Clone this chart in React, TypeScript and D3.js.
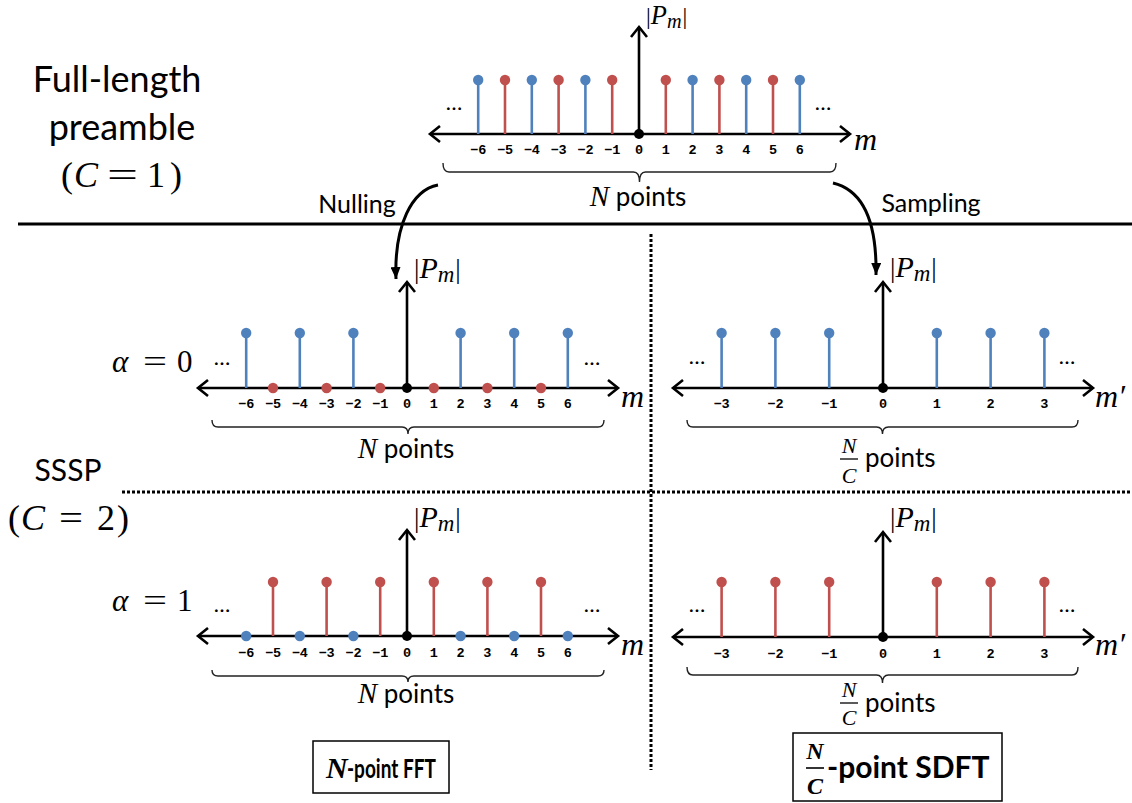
import React from "react";
import * as d3 from "d3";

const BLUE = "#4F81BD";
const RED = "#C0504D";

// ---- data ----
const mIndex = [-6, -5, -4, -3, -2, -1, 0, 1, 2, 3, 4, 5, 6];
const mTickLabels = ["−6", "−5", "−4", "−3", "−2", "−1", "0", "1", "2", "3", "4", "5", "6"];
const fullMag = [1, 1, 1, 1, 1, 1, 0, 1, 1, 1, 1, 1, 1];
const alpha0Mag = [1, 0, 1, 0, 1, 0, 0, 0, 1, 0, 1, 0, 1];
const alpha1Mag = [0, 1, 0, 1, 0, 1, 0, 1, 0, 1, 0, 1, 0];
const mPrimeIndex = [-3, -2, -1, 0, 1, 2, 3];
const mPrimeTickLabels = ["−3", "−2", "−1", "0", "1", "2", "3"];
const sampledMag = [1, 1, 1, 0, 1, 1, 1];

const SANS = "Lato, 'Open Sans', sans-serif";
const SERIF = "'Liberation Serif', 'DejaVu Serif', serif";
const MONO = "'Liberation Mono', 'DejaVu Sans Mono', monospace";

const parityColor = (m: number) => (Math.abs(m) % 2 === 0 ? BLUE : RED);

type PanelProps = {
  idx: number[];
  mags: number[];
  labels: string[];
  colorOf: (m: number) => string;
  cx: number;
  unit: number;
  axisY: number;
  stemTop: number;
  yTop: number;
  xL: number;
  xR: number;
  tickY: number;
  brace: { x1: number; x2: number; y0: number; y1: number; tip: number };
  dotsY: number;
  dotsXL: number;
  dotsXR: number;
  pLabel: { x: number; y: number; s?: number };
  axisLabel: { x: number; y: number; prime: boolean };
};

function PmLabel({ x, y, s = 1 }: { x: number; y: number; s?: number }) {
  return (
    <text x={x} y={y} fontFamily={SERIF} fontSize={27 * s} fill="#000">
      <tspan>|</tspan>
      <tspan fontStyle="italic" fontSize={30 * s}>P</tspan>
      <tspan fontStyle="italic" fontSize={23 * s} dy={4}>m</tspan>
      <tspan dy={-4} dx={1}>|</tspan>
    </text>
  );
}

function Brace({ x1, x2, y0, y1, tip }: { x1: number; x2: number; y0: number; y1: number; tip: number }) {
  const c = (x1 + x2) / 2;
  const r = 6;
  const d = `M${x1},${y0} Q${x1},${y1} ${x1 + r},${y1} L${c - r},${y1} Q${c},${y1} ${c},${tip} Q${c},${y1} ${c + r},${y1} L${x2 - r},${y1} Q${x2},${y1} ${x2},${y0}`;
  return <path d={d} fill="none" stroke="#222" strokeWidth={1.4} />;
}

function StemPanel(p: PanelProps) {
  const x = d3.scaleLinear().domain([0, 1]).range([p.cx, p.cx + p.unit]);
  const y = d3.scaleLinear().domain([0, 1]).range([p.axisY, p.stemTop]);
  const ah = 10;
  const aw = 8;
  return (
    <g>
      <line x1={p.xL} x2={p.xR} y1={p.axisY} y2={p.axisY} stroke="#000" strokeWidth={2.6} />
      <path d={`M${p.xL + ah},${p.axisY - aw} L${p.xL},${p.axisY} L${p.xL + ah},${p.axisY + aw}`} fill="none" stroke="#000" strokeWidth={2.6} />
      <path d={`M${p.xR - ah},${p.axisY - aw} L${p.xR},${p.axisY} L${p.xR - ah},${p.axisY + aw}`} fill="none" stroke="#000" strokeWidth={2.6} />
      {p.idx.map((m, i) => {
        if (m === 0) return null;
        const v = p.mags[i];
        const col = p.colorOf(m);
        return (
          <g key={m}>
            {v > 0 && <line x1={x(m)} x2={x(m)} y1={y(0)} y2={y(v)} stroke={col} strokeWidth={2.6} />}
            <circle cx={x(m)} cy={y(v)} r={5.2} fill={col} />
          </g>
        );
      })}
      <line x1={x(0)} x2={x(0)} y1={p.axisY} y2={p.yTop} stroke="#000" strokeWidth={2.6} />
      <path d={`M${x(0) - aw},${p.yTop + ah} L${x(0)},${p.yTop} L${x(0) + aw},${p.yTop + ah}`} fill="none" stroke="#000" strokeWidth={2.6} />
      <circle cx={x(0)} cy={p.axisY} r={5} fill="#000" />
      {p.idx.map((m, i) => (
        <text key={"t" + m} x={x(m)} y={p.tickY} textAnchor="middle" fontFamily={MONO} fontWeight="bold" fontSize={13.5} fill="#000">
          {p.labels[i]}
        </text>
      ))}
      <Brace {...p.brace} />
      <text x={p.dotsXL} y={p.dotsY} textAnchor="middle" fontFamily={SANS} fontSize={22} fill="#000">…</text>
      <text x={p.dotsXR} y={p.dotsY} textAnchor="middle" fontFamily={SANS} fontSize={22} fill="#000">…</text>
      <PmLabel x={p.pLabel.x} y={p.pLabel.y} s={p.pLabel.s} />
      <text x={p.axisLabel.x} y={p.axisLabel.y} fontFamily={SERIF} fontStyle="italic" fontSize={32} fill="#000">
        m{p.axisLabel.prime ? "′" : ""}
      </text>
    </g>
  );
}

function NPoints({ cx, y }: { cx: number; y: number }) {
  return (
    <text x={cx} y={y} textAnchor="middle" fontSize={26} fill="#000">
      <tspan fontFamily={SERIF} fontStyle="italic" fontSize={29}>N</tspan>
      <tspan fontFamily={SANS}> points</tspan>
    </text>
  );
}

function NCPoints({ fx, nY, barY, cY, pX, pY }: { fx: number; nY: number; barY: number; cY: number; pX: number; pY: number }) {
  return (
    <g>
      <text x={fx} y={nY} textAnchor="middle" fontFamily={SERIF} fontStyle="italic" fontSize={22}>N</text>
      <line x1={fx - 9} x2={fx + 9} y1={barY} y2={barY} stroke="#000" strokeWidth={1.3} />
      <text x={fx} y={cY} textAnchor="middle" fontFamily={SERIF} fontStyle="italic" fontSize={22}>C</text>
      <text x={pX} y={pY} fontFamily={SANS} fontSize={26}>points</text>
    </g>
  );
}

// math "(C = d)" with individually placed glyphs
function CEq({ xs, y, digit, w }: { xs: number[]; y: number; digit: string; w: number }) {
  const fs = 36;
  return (
    <g fontFamily={SERIF} fontSize={fs} fill="#000">
      <text x={xs[0]} y={y}>(</text>
      <text x={xs[1]} y={y} fontStyle="italic">C</text>
      <text x={xs[2]} y={y} textLength={w} lengthAdjust="spacingAndGlyphs">=</text>
      <text x={xs[3]} y={y}>{digit}</text>
      <text x={xs[4]} y={y}>)</text>
    </g>
  );
}

function AlphaEq({ y, digit }: { y: number; digit: string }) {
  return (
    <g fontFamily={SERIF} fontSize={31} fill="#000">
      <text x={112} y={y} fontStyle="italic">α</text>
      <text x={143} y={y} textLength={24} lengthAdjust="spacingAndGlyphs">=</text>
      <text x={177} y={y}>{digit}</text>
    </g>
  );
}

export default function App() {
  return (
    <svg width={1132} height={803} style={{ position: "absolute", left: 0, top: 0, background: "#fff" }}>
      <defs>
        <marker id="ah" viewBox="0 0 12 10" refX="12" refY="5" markerWidth="12" markerHeight="10" markerUnits="userSpaceOnUse" orient="auto">
          <path d="M0,0 L12,5 L0,10 Z" fill="#000" />
        </marker>
      </defs>
      <rect x={0} y={0} width={1132} height={803} fill="#fff" />

      {/* left titles */}
      <text x={117} y={92} textAnchor="middle" fontFamily={SANS} fontSize={36}>Full-length</text>
      <text x={122} y={140} textAnchor="middle" fontFamily={SANS} fontSize={36}>preamble</text>
      <CEq xs={[61, 74, 107, 147, 170]} y={187} digit="1" w={31} />
      <text x={68} y={481} textAnchor="middle" fontFamily={SANS} fontSize={30}>SSSP</text>
      <CEq xs={[8, 21, 59, 97, 117]} y={530} digit="2" w={24} />
      <AlphaEq y={372} digit="0" />
      <AlphaEq y={611} digit="1" />

      {/* separators */}
      <line x1={18} x2={1132} y1={224} y2={224} stroke="#000" strokeWidth={3} />
      <line x1={122} x2={1130} y1={492} y2={492} stroke="#000" strokeWidth={3} strokeDasharray="3 2" />
      <line x1={651} x2={651} y1={234} y2={770} stroke="#000" strokeWidth={3} strokeDasharray="3 2" />

      {/* arrows */}
      <text x={357} y={213} textAnchor="middle" fontFamily={SANS} fontSize={25}>Nulling</text>
      <text x={931} y={212} textAnchor="middle" fontFamily={SANS} fontSize={25}>Sampling</text>
      <path d="M438,185 C412,190 394,225 396,279" fill="none" stroke="#000" strokeWidth={3} markerEnd="url(#ah)" />
      <path d="M833,183 C862,190 877,220 876,275" fill="none" stroke="#000" strokeWidth={3} markerEnd="url(#ah)" />

      {/* top panel */}
      <StemPanel
        idx={mIndex} mags={fullMag} labels={mTickLabels} colorOf={parityColor}
        cx={639} unit={26.8} axisY={134} stemTop={80} yTop={27} xL={430} xR={850} tickY={154}
        brace={{ x1: 443, x2: 836, y0: 163, y1: 172, tip: 182 }}
        dotsY={110} dotsXL={454} dotsXR={823}
        pLabel={{ x: 646, y: 24, s: 0.88 }} axisLabel={{ x: 854, y: 150, prime: false }}
      />
      <NPoints cx={638} y={206} />

      {/* middle left: alpha = 0, nulling */}
      <StemPanel
        idx={mIndex} mags={alpha0Mag} labels={mTickLabels} colorOf={parityColor}
        cx={407} unit={26.8} axisY={388} stemTop={333} yTop={282} xL={198} xR={618} tickY={408}
        brace={{ x1: 212, x2: 604, y0: 420, y1: 427, tip: 434 }}
        dotsY={365} dotsXL={222} dotsXR={592}
        pLabel={{ x: 414, y: 278 }} axisLabel={{ x: 621, y: 407, prime: false }}
      />
      <NPoints cx={406} y={458} />

      {/* middle right: sampled alpha = 0 */}
      <StemPanel
        idx={mPrimeIndex} mags={sampledMag} labels={mPrimeTickLabels} colorOf={() => BLUE}
        cx={883} unit={53.8} axisY={388} stemTop={333} yTop={282} xL={673} xR={1093} tickY={408}
        brace={{ x1: 687, x2: 1078, y0: 420, y1: 427, tip: 434 }}
        dotsY={364} dotsXL={697} dotsXR={1067}
        pLabel={{ x: 890, y: 277 }} axisLabel={{ x: 1095, y: 407, prime: true }}
      />
      <NCPoints fx={849} nY={453} barY={459} cY={483} pX={865} pY={467} />

      {/* bottom left: alpha = 1, nulling */}
      <StemPanel
        idx={mIndex} mags={alpha1Mag} labels={mTickLabels} colorOf={parityColor}
        cx={407} unit={26.8} axisY={636} stemTop={582} yTop={530} xL={198} xR={618} tickY={657}
        brace={{ x1: 212, x2: 604, y0: 670, y1: 676, tip: 682 }}
        dotsY={612} dotsXL={222} dotsXR={592}
        pLabel={{ x: 414, y: 527 }} axisLabel={{ x: 621, y: 655, prime: false }}
      />
      <NPoints cx={406} y={703} />

      {/* bottom right: sampled alpha = 1 */}
      <StemPanel
        idx={mPrimeIndex} mags={sampledMag} labels={mPrimeTickLabels} colorOf={() => RED}
        cx={883} unit={53.8} axisY={637} stemTop={582} yTop={532} xL={673} xR={1093} tickY={658}
        brace={{ x1: 687, x2: 1078, y0: 667, y1: 675, tip: 683 }}
        dotsY={612} dotsXL={697} dotsXR={1067}
        pLabel={{ x: 890, y: 527 }} axisLabel={{ x: 1095, y: 655, prime: true }}
      />
      <NCPoints fx={849} nY={697} barY={703} cY={725} pX={865} pY={712} />

      {/* bottom boxes */}
      <rect x={313} y={741} width={136} height={52} fill="none" stroke="#000" strokeWidth={1.5} />
      <text x={326} y={778} fontFamily={SERIF} fontStyle="italic" fontWeight="bold" fontSize={30}>N</text>
      <text x={347} y={778} fontFamily={SANS} fontWeight="bold" fontSize={27} textLength={89} lengthAdjust="spacingAndGlyphs">-point FFT</text>

      <rect x={793} y={733} width={209} height={68} fill="none" stroke="#000" strokeWidth={1.5} />
      <text x={815} y={759} textAnchor="middle" fontFamily={SERIF} fontStyle="italic" fontWeight="bold" fontSize={24}>N</text>
      <line x1={806} x2={824} y1={768} y2={768} stroke="#000" strokeWidth={1.6} />
      <text x={815} y={794} textAnchor="middle" fontFamily={SERIF} fontStyle="italic" fontWeight="bold" fontSize={24}>C</text>
      <text x={827} y={778} fontFamily={SANS} fontWeight="bold" fontSize={30}>-point SDFT</text>
    </svg>
  );
}
